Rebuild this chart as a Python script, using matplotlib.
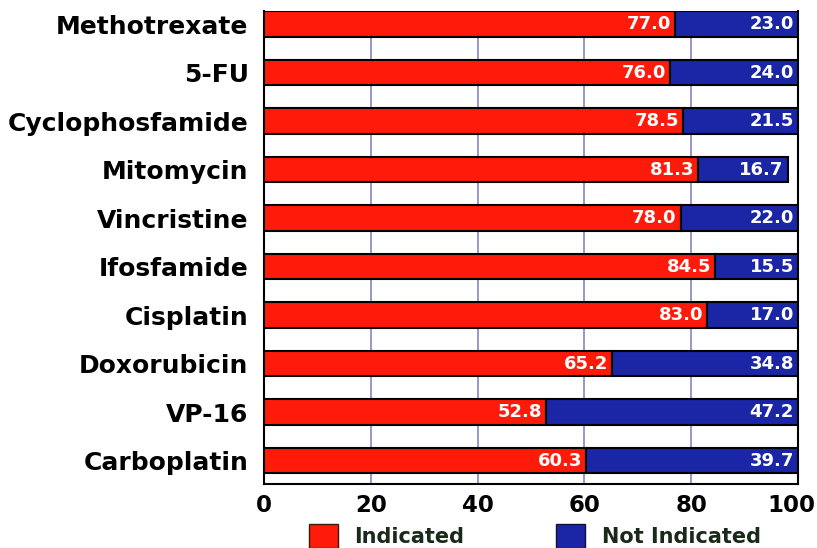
import matplotlib
matplotlib.use('Agg')
from matplotlib import pyplot as plt
from matplotlib.patches import Patch
import matplotlib.transforms as mtransforms

# drugs from top to bottom, percent of cases
drugs = ['Methotrexate', '5-FU', 'Cyclophosfamide', 'Mitomycin', 'Vincristine',
         'Ifosfamide', 'Cisplatin', 'Doxorubicin', 'VP-16', 'Carboplatin']
indicated = [77.0, 76.0, 78.5, 81.3, 78.0, 84.5, 83.0, 65.2, 52.8, 60.3]
not_indicated = [23.0, 24.0, 21.5, 16.7, 22.0, 15.5, 17.0, 34.8, 47.2, 39.7]
xticks = [0, 20, 40, 60, 80, 100]

red = '#ff1a0a'
blue = '#1a26a6'

fig = plt.figure(figsize=(8.17, 5.48), dpi=100)
ax = fig.add_axes([0.323, 0.117, 0.654, 0.863])

ypos = list(range(len(drugs)))
ax.barh(ypos, indicated, height=0.52, color=red, edgecolor='black',
        linewidth=1.5, zorder=3)
ax.barh(ypos, not_indicated, left=indicated, height=0.52, color=blue,
        edgecolor='black', linewidth=1.5, zorder=3)

# value labels inside the segments
for y, a, b in zip(ypos, indicated, not_indicated):
    ax.text(a - 0.8, y, '%.1f' % a, ha='right', va='center', color='white',
            fontsize=13, fontweight='bold', zorder=4)
    ax.text(a + b - 0.8, y, '%.1f' % b, ha='right', va='center', color='white',
            fontsize=13, fontweight='bold', zorder=4)

ax.set_xlim(0, 100)
ax.set_ylim(len(drugs) - 1 + 0.48, -0.27)
ax.set_yticks(ypos)
ax.set_yticklabels(drugs, fontsize=18, fontweight='bold')
ax.set_xticks(xticks)
ax.set_xticklabels([str(t) for t in xticks], fontsize=16.5, fontweight='bold')
ax.tick_params(axis='y', length=0, pad=11)
ax.tick_params(axis='x', length=0, pad=7)

# keep "100" inside the figure
lab = ax.get_xticklabels()[-1]
lab.set_transform(lab.get_transform() +
                  mtransforms.ScaledTranslation(-0.07, 0, fig.dpi_scale_trans))

ax.grid(axis='x', color='#8585c2', linewidth=1.2, zorder=0)
for side in ['left', 'right', 'bottom']:
    ax.spines[side].set_linewidth(1.5)
ax.spines['top'].set_visible(False)

handles = [Patch(facecolor=red, edgecolor='#3a1a0a', label='Indicated'),
           Patch(facecolor=blue, edgecolor='#101030', label='Not Indicated')]
leg = fig.legend(handles=handles, loc='lower left', bbox_to_anchor=(0.355, -0.035),
                 ncol=2, frameon=False, handlelength=1.4,
                 handleheight=1.4, columnspacing=4.4, handletextpad=0.8,
                 prop={'weight': 'bold', 'size': 15})
for t in leg.get_texts():
    t.set_color('#1a2a1a')

fig.savefig('out.png', dpi=100)
